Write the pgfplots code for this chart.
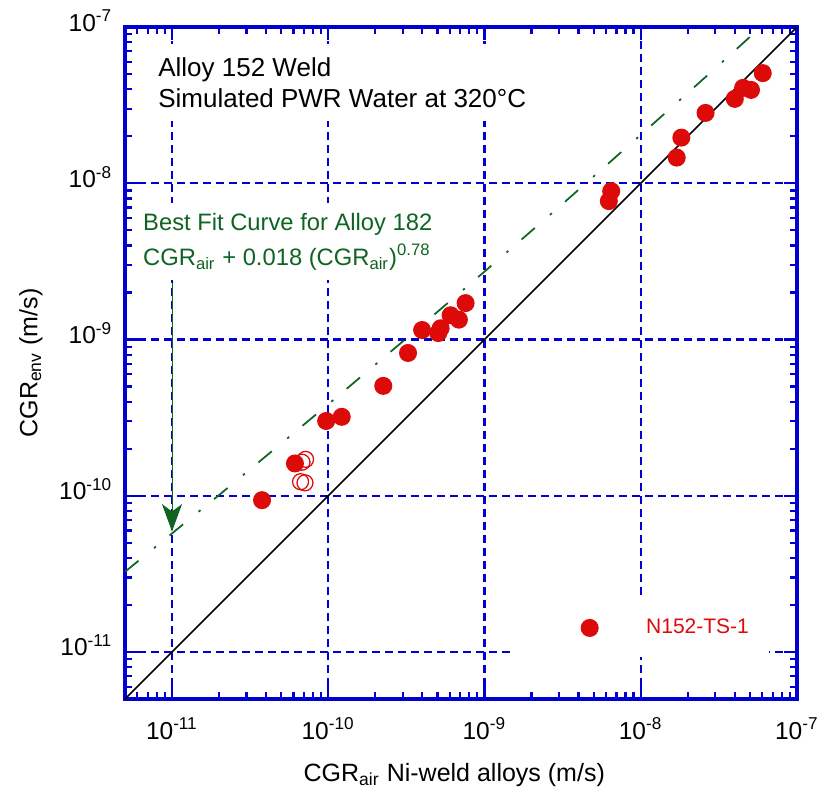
\documentclass[border=0pt]{standalone}
\usepackage{fontspec}
\setmainfont{Liberation Sans}
\usepackage{pgfplots}
\pgfplotsset{compat=1.18}
\usetikzlibrary{arrows.meta}

\definecolor{axblue}{RGB}{0,0,210}
\definecolor{ptred}{RGB}{221,10,10}
\definecolor{fitgreen}{RGB}{16,100,35}

\begin{document}
\begin{tikzpicture}
\begin{axis}[
  name=ax,
  scale only axis, width=268.8pt, height=268.8pt,
  xmode=log, ymode=log, log basis x=10, log basis y=10,
  xmin=5e-12, xmax=1e-7, ymin=5e-12, ymax=1e-7,
  axis line style={axblue, line width=1.6pt},
  tick style={axblue, line width=0.9pt},
  major tick length=5.2pt, minor tick length=2.8pt,
  grid=major,
  major grid style={axblue, line width=0.85pt, dash pattern=on 3.2pt off 2pt},
  xticklabel={10\textsuperscript{\pgfmathparse{int(round(\tick))}\pgfmathresult}},
  yticklabel={10\textsuperscript{\pgfmathparse{int(round(\tick))}\pgfmathresult}},
  tick label style={font=\fontsize{9.8}{11}\selectfont},
  xticklabel style={anchor=base, inner sep=0pt, yshift=-16pt},
  yticklabel style={anchor=base east, inner sep=0pt, xshift=-4.8pt, yshift=-1.6pt},
  label style={font=\fontsize{11}{12}\selectfont},
  xlabel={CGR\textsubscript{air} Ni-weld alloys (m/s)},
  ylabel={CGR\textsubscript{env} (m/s)},
  every axis x label/.style={at={(axis description cs:0.49,0)}, anchor=base, yshift=-32.8pt},
  every axis y label/.style={at={(axis description cs:-0.14,0.5)}, anchor=center, rotate=90},
  legend style={at={(0.7657,0.1058)}, anchor=center, draw=none, fill=white,
                inner xsep=8pt, inner ysep=8pt, font=\fontsize{8.4}{10}\selectfont,
                text=ptred, column sep=19pt, nodes={inner sep=0pt}},
  legend image code/.code={\path (0cm,0cm) (0.95cm,0cm); \draw[#1] plot coordinates {(0.83cm,0cm)};},
]
% best fit curve for alloy 182
\addplot[forget plot, fitgreen, line width=0.7pt, dash pattern=on 7pt off 8pt on 1pt off 7pt]
  coordinates {(5e-12,3.26e-11)(1e-11,5.74e-11)(2e-11,1.01e-10)(5e-11,2.16e-10)(1e-10,3.85e-10)
               (3e-10,9.72e-10)(1e-9,2.72e-9)(3e-9,7.05e-9)(1e-8,2.04e-8)(3e-8,5.44e-8)(6e-8,1.02e-7)};

\addplot[only marks, mark=*, mark size=3.4pt, ptred, mark options={fill=ptred, draw=ptred}]
  coordinates {(6.04e-8,5.07e-8)(4.52e-8,4.08e-8)(5.08e-8,3.96e-8)(4.0e-8,3.47e-8)
               (2.60e-8,2.82e-8)(1.82e-8,1.96e-8)(1.70e-8,1.46e-8)(6.47e-9,8.9e-9)
               (6.25e-9,7.69e-9)(7.57e-10,1.71e-9)(6.07e-10,1.43e-9)(6.86e-10,1.34e-9)
               (5.24e-10,1.18e-9)(5.06e-10,1.10e-9)(3.99e-10,1.15e-9)(3.24e-10,8.2e-10)
               (2.25e-10,5.05e-10)(1.22e-10,3.20e-10)(9.7e-11,3.01e-10)(6.12e-11,1.61e-10)
               (3.77e-11,9.37e-11)};
\addlegendentry{N152-TS-1}

\addplot[forget plot, only marks, mark=o, mark size=3.2pt, ptred, mark options={line width=0.5pt}]
  coordinates {(7.16e-11,1.71e-10)(6.79e-11,1.64e-10)(6.65e-11,1.23e-10)(7.1e-11,1.21e-10)};

% 1:1 line
\addplot[forget plot, black, line width=0.7pt] coordinates {(5e-12,5e-12)(1e-7,1e-7)};

\draw[fitgreen, line width=0.4pt, -{Stealth[length=11pt, width=8pt, inset=3pt]}]
  (axis cs:1e-11,2.3e-9) -- (axis cs:1e-11,5.9e-11);

\node[anchor=north west, fill=white, inner xsep=4pt, inner ysep=5.5pt, align=left,
      font=\fontsize{10.4}{12.4}\selectfont] at (rel axis cs:0.034,0.976)
  {Alloy 152 Weld\\Simulated PWR Water at 320°C};
\node[anchor=north west, fill=white, inner xsep=2pt, inner ysep=4pt, align=left,
      text=fitgreen, font=\fontsize{9.5}{14}\selectfont] at (rel axis cs:0.019,0.739)
  {Best Fit Curve for Alloy 182\\CGR\textsubscript{air} + 0.018 (CGR\textsubscript{air})\textsuperscript{0.78}};
\end{axis}
\pgfresetboundingbox
\path ([xshift=-50pt,yshift=-38pt]ax.south west) rectangle ([xshift=12pt,yshift=10.8pt]ax.north east);
\end{tikzpicture}
\end{document}
